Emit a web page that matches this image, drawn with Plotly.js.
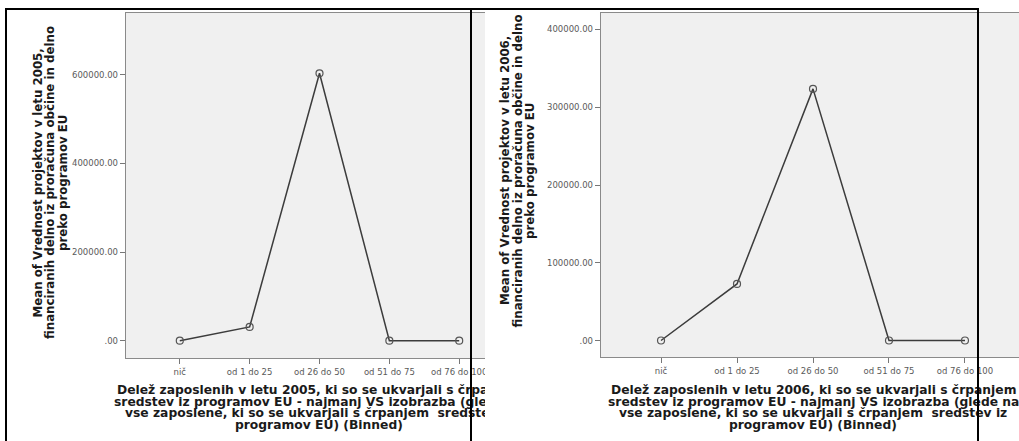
<!DOCTYPE html>
<html>
<head>
<meta charset="utf-8">
<script src="https://cdn.plot.ly/plotly-3.0.1.min.js"></script>
<style>
  html, body { margin: 0; padding: 0; background: #ffffff; }
  #wrap { position: relative; width: 1019px; height: 441px; overflow: hidden; background: #ffffff; }
  #boxA { position: absolute; left: 0; top: 0; width: 485px; height: 441px; overflow: hidden; }
  #boxB { position: absolute; left: 485px; top: 0; width: 534px; height: 441px; overflow: hidden; background: #ffffff; }
  #frame { position: absolute; left: 0; top: 0; width: 1019px; height: 441px; pointer-events: none; }
</style>
</head>
<body>
<div id="wrap">
  <div id="boxA"><div id="chartA"></div></div>
  <div id="boxB"><div id="chartB"></div></div>
  <div id="frame"></div>
</div>
<script>
// ---- data ----
const categories = ['nič', 'od 1 do 25', 'od 26 do 50', 'od 51 do 75', 'od 76 do 100'];
const mean2005 = [0, 31000, 603000, 0, 0];
const mean2006 = [0, 72800, 323600, 0, 0];

const yTickVals2005 = [0, 200000, 400000, 600000];
const yTickText2005 = ['.00', '200000.00', '400000.00', '600000.00'];
const yTickVals2006 = [0, 100000, 200000, 300000, 400000];
const yTickText2006 = ['.00', '100000.00', '200000.00', '300000.00', '400000.00'];

const yTitle2005 = ['Mean of Vrednost projektov v letu 2005,', 'financiranih delno iz proračuna občine in delno', 'preko programov EU'];
const yTitle2006 = ['Mean of Vrednost projektov v letu 2006,', 'financiranih delno iz proračuna občine in delno', 'preko programov EU'];
const xTitle2005 = ['Delež zaposlenih v letu 2005, ki so se ukvarjali s črpanjem', 'sredstev iz programov EU - najmanj VS izobrazba (glede na', 'vse zaposlene, ki so se ukvarjali s črpanjem  sredstev iz', 'programov EU) (Binned)'];
const xTitle2006 = ['Delež zaposlenih v letu 2006, ki so se ukvarjali s črpanjem', 'sredstev iz programov EU - najmanj VS izobrazba (glede na', 'vse zaposlene, ki so se ukvarjali s črpanjem  sredstev iz', 'programov EU) (Binned)'];

// ---- styles ----
const FONT = 'DejaVu Sans, Verdana, sans-serif';
const tickFont = { family: FONT, size: 8.5, color: '#5a5a5a' };
const xTitleFont = { family: FONT, size: 12.3, color: '#1a1a1a', weight: 'bold' };
const yTitleFont = { family: FONT, size: 11.8, color: '#1a1a1a', weight: 'bold' };

function lineTrace(y) {
  return {
    type: 'scatter', mode: 'lines+markers',
    x: categories, y: y,
    line: { color: '#3c3c3c', width: 1.5 },
    marker: { symbol: 'circle-open', size: 7, color: '#555555', line: { width: 1.2, color: '#555555' } },
    hoverinfo: 'x+y', showlegend: false
  };
}

function axisX(range) {
  return {
    type: 'category', range: range, showgrid: false, zeroline: false,
    showline: true, mirror: true, linecolor: '#8a8a8a', linewidth: 1.3,
    ticks: 'outside', ticklen: 5, tickwidth: 1, tickcolor: '#777777',
    tickfont: tickFont, fixedrange: true
  };
}
function axisY(range, vals, text) {
  return {
    range: range, showgrid: false, zeroline: false,
    showline: true, mirror: true, linecolor: '#8a8a8a', linewidth: 1.3,
    ticks: 'outside', ticklen: 5, tickwidth: 1, tickcolor: '#777777',
    tickmode: 'array', tickvals: vals, ticktext: text,
    tickfont: tickFont, fixedrange: true
  };
}

// Build title annotations, one per line. geo = plot-area pixel box of the chart.
function titleAnnotations(geo, yLines, yCenters, yMid, xLines, xCenter, xRows) {
  const toX = p => (p - geo.l) / geo.w;
  const toY = p => (geo.b - p) / geo.h;
  const out = [];
  yLines.forEach((t, i) => out.push({
    text: t, xref: 'paper', yref: 'paper', x: toX(yCenters[i]), y: toY(yMid),
    xanchor: 'center', yanchor: 'middle', textangle: -90, showarrow: false, font: yTitleFont
  }));
  xLines.forEach((t, i) => out.push({
    text: t, xref: 'paper', yref: 'paper', x: toX(xCenter), y: toY(xRows[i]),
    xanchor: 'center', yanchor: 'middle', showarrow: false, font: xTitleFont
  }));
  return out;
}

const config = { displayModeBar: false, staticPlot: true };

// ---- left chart (2005) ----  plot area x 126..513, y 13..358 (chart pixels)
const geoA = { l: 126, w: 387, b: 358, h: 345 };
const layoutA = {
  width: 540, height: 441,
  margin: { l: 126, r: 27, t: 13, b: 83 },
  paper_bgcolor: '#ffffff', plot_bgcolor: '#f0f0f0',
  xaxis: axisX([-0.77, 4.77]),
  yaxis: axisY([-39000, 739000], yTickVals2005, yTickText2005),
  annotations: titleAnnotations(geoA, yTitle2005, [37.5, 50, 63], 183,
                                xTitle2005, 319, [390, 401.7, 413.4, 425])
};
Plotly.newPlot('chartA', [lineTrace(mean2005)], layoutA, config);

// ---- right chart (2006) ----  plot area x 116..540, y 13..357 (chart pixels)
const geoB = { l: 116, w: 424, b: 357, h: 344 };
const layoutB = {
  width: 560, height: 441,
  margin: { l: 116, r: 20, t: 13, b: 84 },
  paper_bgcolor: '#ffffff', plot_bgcolor: '#f0f0f0',
  xaxis: axisX([-0.79, 4.79]),
  yaxis: axisY([-21200, 421200], yTickVals2006, yTickText2006),
  annotations: titleAnnotations(geoB, yTitle2006, [505 - 485, 517.5 - 485, 530 - 485], 171,
                                xTitle2006, 813 - 485, [390, 401.7, 413.4, 425])
};
Plotly.newPlot('chartB', [lineTrace(mean2006)], layoutB, config);

// ---- black frame lines over both panels ----
const W = 1019, H = 441;
function px(x) { return x / W; }
function py(y) { return 1 - y / H; }
const frameLine = { color: '#000000', width: 2 };
const layoutF = {
  width: W, height: H,
  margin: { l: 0, r: 0, t: 0, b: 0 },
  paper_bgcolor: 'rgba(0,0,0,0)', plot_bgcolor: 'rgba(0,0,0,0)',
  xaxis: { visible: false, range: [0, 1], fixedrange: true },
  yaxis: { visible: false, range: [0, 1], fixedrange: true },
  shapes: [
    { type: 'line', xref: 'paper', yref: 'paper', x0: px(5), x1: px(979), y0: py(9), y1: py(9), line: frameLine },
    { type: 'line', xref: 'paper', yref: 'paper', x0: px(6), x1: px(6), y0: py(8), y1: py(441), line: frameLine },
    { type: 'line', xref: 'paper', yref: 'paper', x0: px(471), x1: px(471), y0: py(8), y1: py(441), line: frameLine },
    { type: 'line', xref: 'paper', yref: 'paper', x0: px(978), x1: px(978), y0: py(8), y1: py(441), line: frameLine }
  ]
};
Plotly.newPlot('frame', [], layoutF, config);
</script>
</body>
</html>
